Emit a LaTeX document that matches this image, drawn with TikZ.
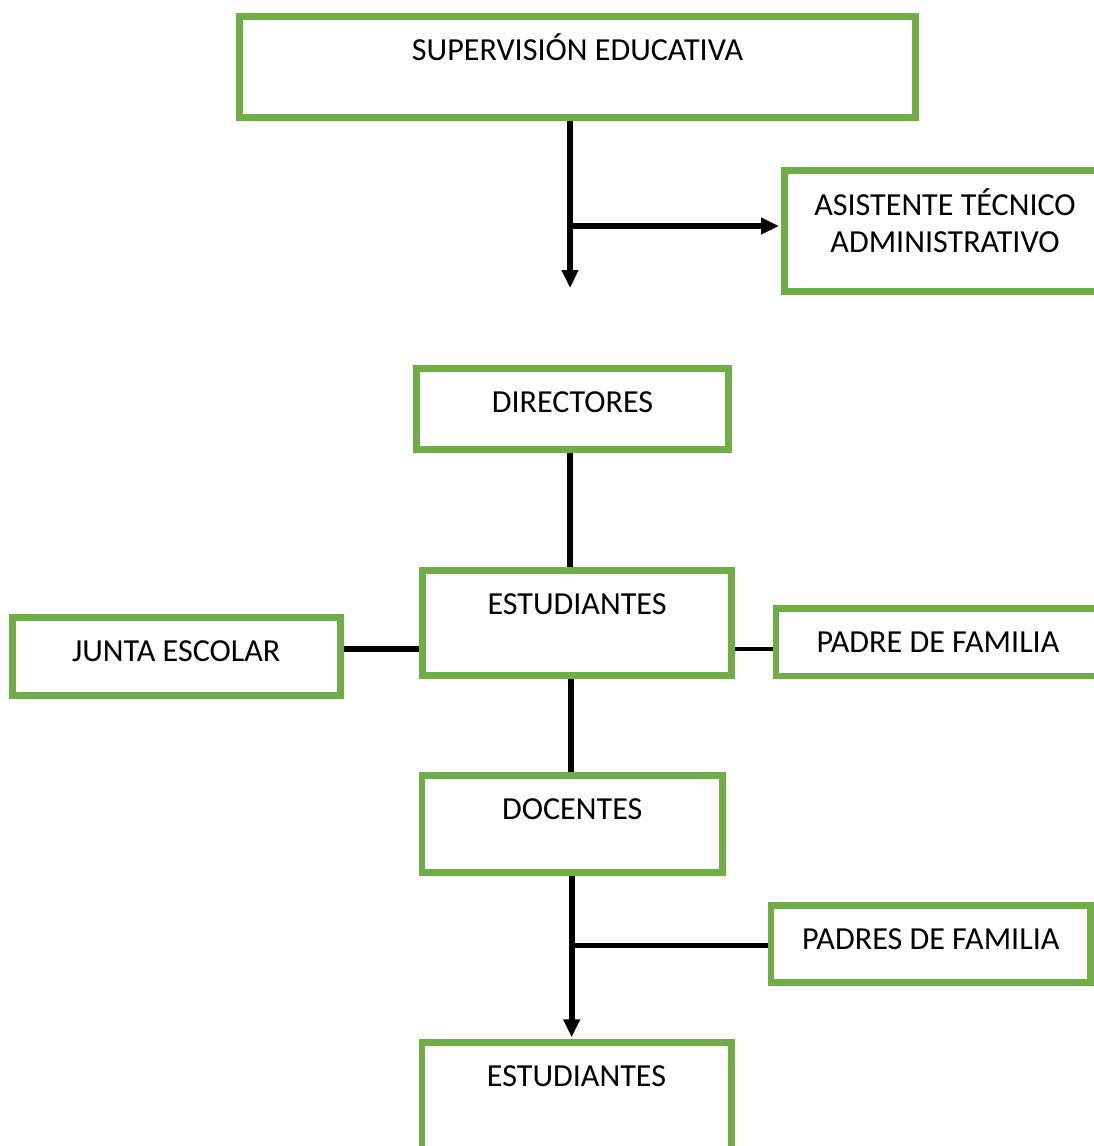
\documentclass[tikz,border=0pt]{standalone}
\usepackage{fontspec}
\setmainfont{Carlito}
\usetikzlibrary{arrows.meta}
\definecolor{boxgreen}{RGB}{112,173,71}
\tikzset{
  box/.style n args={3}{draw=boxgreen, line width=6.7pt, rectangle, anchor=north west,
    inner sep=0pt, minimum width=#1, text height=43.65pt, text depth=#2,
    align=center, font=\fontsize{32.1}{37}\selectfont, #3},
  conn/.style={draw=black, line width=6pt},
  arr/.style={conn, -{Triangle[length=18pt,width=16pt]}},
}
\begin{document}
\begin{tikzpicture}[x=1pt,y=-1pt]
\useasboundingbox (0,0) rectangle (1094,1146);
% boxes (outer-edge corner, centre-line width, text depth)
\node[box={676.3pt}{57.65pt}{}] (sup) at (236,13) {SUPERVISIÓN EDUCATIVA};
\node[box={321.3pt}{38.8pt}{text height=82.5pt}] (asist) at (781,167) {ASISTENTE TÉCNICO\\ADMINISTRATIVO};
\node[box={312.3pt}{37.65pt}{}] (dir) at (413,365) {DIRECTORES};
\node[box={309.3pt}{61.65pt}{}] (est1) at (419,567) {ESTUDIANTES};
\node[box={327.8pt}{34.65pt}{}] (junta) at (9,614) {JUNTA ESCOLAR};
\node[box={324.3pt}{23.95pt}{}] (padre) at (772.5,605) {PADRE DE FAMILIA};
\node[box={300.8pt}{53.05pt}{}] (doc) at (418.5,772.3) {DOCENTES};
\node[box={319.6pt}{33.65pt}{}] (padres) at (767.7,902) {PADRES DE FAMILIA};
\node[box={309.3pt}{80pt}{}] (est2) at (418.5,1039.3) {ESTUDIANTES};
% helper coordinates
\coordinate (c1) at (570,288);
\coordinate (j1) at (570,226);
\coordinate (x2) at (570.5,0);
\coordinate (y3) at (0,649);
\coordinate (c4) at (571.7,1037.3);
\coordinate (j4) at (571.7,945);
% connectors
\draw[arr] (sup.south -| c1) -- (c1);
\draw[arr] (j1) -- ([xshift=-2pt]asist.west |- j1);
\draw[conn] (dir.south -| c1) -- (est1.north -| c1);
\draw[conn] (junta.east |- y3) -- (est1.west |- y3);
\draw[conn, line width=3.3pt] (est1.east |- y3) -- (padre.west |- y3);
\draw[conn] (est1.south -| x2) -- (doc.north -| x2);
\draw[arr] (doc.south -| c4) -- (c4);
\draw[conn, line width=5pt] (j4) -- (padres.west |- j4);
\end{tikzpicture}
\end{document}
